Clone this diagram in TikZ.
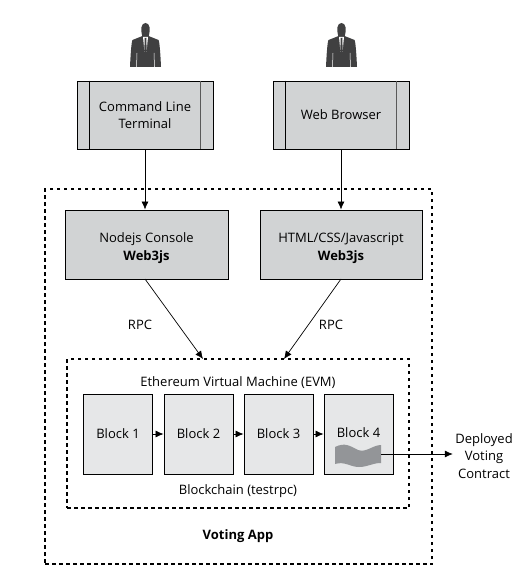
\documentclass[tikz,border=0pt]{standalone}
\usepackage{fontspec}
\setmainfont{Open Sans}
\usepackage{xcolor}
\usetikzlibrary{arrows.meta,positioning,calc}
\definecolor{boxgray}{HTML}{D1D3D4}
\definecolor{blockgray}{HTML}{E6E7E8}
\definecolor{mangray}{HTML}{404041}
\definecolor{wavegray}{HTML}{939598}
\tikzset{
  person/.pic={
    \fill[mangray] (0,-22) .. controls (-4.5,-22) and (-5,-15) .. (-3.5,-10)
      -- (-3,-7) -- (3,-7) -- (3.5,-10) .. controls (5,-15) and (4.5,-22) .. (0,-22) -- cycle;
    \fill[mangray] (-3,-9) -- (-13,-5) .. controls (-14,-4) and (-15,10) .. (-15.5,22)
      -- (15.5,22) .. controls (15,10) and (14,-4) .. (13,-5) -- (3,-9) -- cycle;
    \fill[white] (-2.5,-8) -- (2.5,-8) -- (1,7) -- (-1,7) -- cycle;
    \fill[mangray] (-1,-7) -- (1,-7) -- (0.8,-4) -- (1.3,6) -- (0,9) -- (-1.3,6) -- (-0.8,-4) -- cycle;
    \draw[white, line width=.5pt] (-8.5,8) -- (-9,22) (8.5,8) -- (9,22);
  }
}
\begin{document}
\begin{tikzpicture}[x=1pt, y=-1pt, font=\fontsize{13}{17.5}\selectfont, >={Latex[length=8pt,width=7pt]},
  box/.style={draw, line width=.9pt, fill=boxgray, align=center, minimum width=136pt, minimum height=68pt, inner sep=0pt},
  console/.style={draw, line width=.9pt, fill=boxgray, align=center, minimum width=163pt, minimum height=69pt, inner sep=0pt},
  block/.style={draw, line width=.8pt, fill=blockgray, minimum width=69pt, minimum height=80pt, inner sep=0pt},
  region/.style={draw, line width=1.6pt, dash pattern=on 3.5pt off 3.5pt},
  lbl/.style={align=center, inner sep=0pt}]
\useasboundingbox (0,0) rectangle (528,572);
\node[region, minimum width=387pt, minimum height=375pt, inner sep=0pt] (app) at (238.5,376.5) {};
\node[region, line width=1.4pt, minimum width=342pt, minimum height=149pt, inner sep=0pt] (evm) at (238,433.5) {};
\node[box] (terminal) at (145,115) {Command Line\\Terminal};
\node[box] (browser)  at (341,115) {Web Browser};
\node[console] (nodejs) at (146.5,244.5) {\rule{0pt}{17pt}Nodejs Console\\[.5pt]\textbf{Web3js}};
\node[console, minimum width=162pt] (html) at (341,244.5) {\rule{0pt}{17pt}HTML/CSS/Javascript\\[.5pt]\textbf{Web3js}};
\node[block] (block1) at (118,434) {Block 1};
\node[block] (block2) at (198.5,434) {Block 2};
\node[block] (block3) at (278.5,434) {Block 3};
\node[block] (block4) at (358.5,434) {};
\node[lbl] (blockfour) at (358.5,433) {Block 4};
\node[lbl] (evmlabel) at (238,383) {Ethereum Virtual Machine (EVM)};
\node[lbl] (chainlabel) at (238,491) {Blockchain (testrpc)};
\node[lbl] (applabel) at (238,536) {\textbf{Voting App}};
\node[lbl] (rpcleft) at (140,325) {RPC};
\node[lbl] (rpcright) at (331,325) {RPC};
\node[lbl, minimum width=62pt] (deployed) at (484,456) {Deployed\\Voting\\Contract};
\pic (userleft) at (145.5,45) {person};
\pic (userright) at (341.5,45) {person};
% side bars of the two clients
\foreach \n in {terminal,browser} {
  \draw[line width=.9pt] ([xshift=13pt]\n.north west) -- ([xshift=13pt]\n.south west);
  \draw[line width=1.4pt, black!65] ([xshift=-13pt]\n.north east) -- ([xshift=-13pt]\n.south east);
}
% contract in block 4
\fill[wavegray] (335,447) .. controls (345,442) and (350,446) .. (358,450)
  .. controls (366,453) and (373,445) .. (381,445) -- (381,463)
  .. controls (372,463) and (368,467) .. (359,467) .. controls (350,467) and (345,461) .. (335,464) -- cycle;
\coordinate (contract) at (381,454);
\draw[->, line width=.7pt] (terminal.south) -- (terminal.south |- nodejs.north);
\draw[->, line width=.7pt] (browser) -- (html);
\draw[->, line width=.7pt] (145,279) -- (203,359);
\draw[->, line width=.7pt] (341,279) -- (284,359);
\draw[->, line width=.7pt] (block1) -- (block2);
\draw[->, line width=.7pt] (block2) -- (block3);
\draw[->, line width=.7pt] (block3) -- (block4);
\draw[->, line width=.7pt] (contract) -- (deployed.west |- contract);
\end{tikzpicture}
\end{document}
